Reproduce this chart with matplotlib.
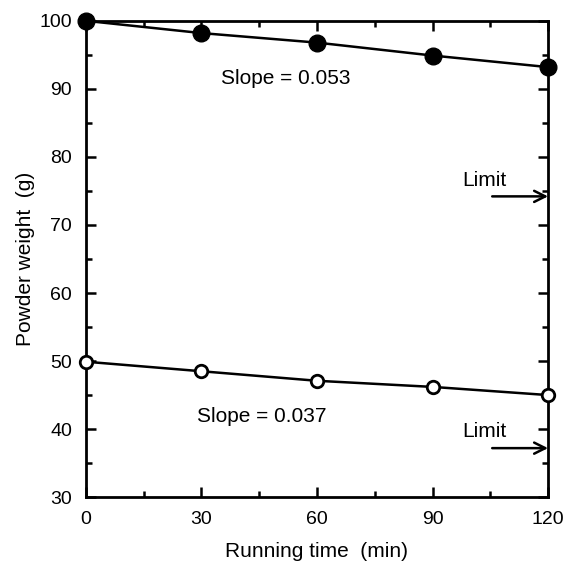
import matplotlib.pyplot as plt
from matplotlib.ticker import MultipleLocator

plt.rcParams['font.family'] = ['Liberation Sans', 'DejaVu Sans']

# Data
times = [0, 30, 60, 90, 120]
weight_high = [100, 98.2, 96.8, 94.9, 93.2]
weight_low = [49.9, 48.5, 47.1, 46.2, 45.0]
slope_labels = ["Slope = 0.053", "Slope = 0.037"]
limits = [74.2, 37.2]

fig = plt.figure(figsize=(5.65, 5.63), dpi=100)
ax = fig.add_axes([0.152, 0.117, 0.818, 0.846])

ax.plot(times, weight_high, color="black", lw=1.8, marker="o", ms=12,
        mfc="black", mec="black", clip_on=False, zorder=3)
ax.plot(times, weight_low, color="black", lw=1.8, marker="o", ms=9,
        mfc="white", mec="black", mew=2, clip_on=False, zorder=3)

ax.text(52, 91.5, slope_labels[0], ha="center", va="center", fontsize=15)
ax.text(45.7, 41.8, slope_labels[1], ha="center", va="center", fontsize=15)

for lim in limits:
    ax.annotate("", xy=(120, lim), xytext=(105.5, lim),
                arrowprops=dict(arrowstyle="->", lw=1.8, color="black",
                                mutation_scale=20, shrinkA=0, shrinkB=0))
    ax.text(103.5, lim + 2.4, "Limit", ha="center", va="center", fontsize=15)

ax.set_xlim(0, 120)
ax.set_ylim(30, 100)
ax.xaxis.set_major_locator(MultipleLocator(30))
ax.xaxis.set_minor_locator(MultipleLocator(15))
ax.yaxis.set_major_locator(MultipleLocator(10))
ax.yaxis.set_minor_locator(MultipleLocator(5))
ax.tick_params(which="both", direction="in", top=True, right=True, width=1.8,
               labelsize=14)
ax.tick_params(which="major", length=7, pad=10)
ax.tick_params(which="minor", length=4)
for s in ax.spines.values():
    s.set_linewidth(2)

ax.set_xlabel("Running time  (min)", fontsize=15, labelpad=10)
ax.set_ylabel("Powder weight  (g)", fontsize=15, labelpad=3)

fig.savefig("out.png", dpi=100)
